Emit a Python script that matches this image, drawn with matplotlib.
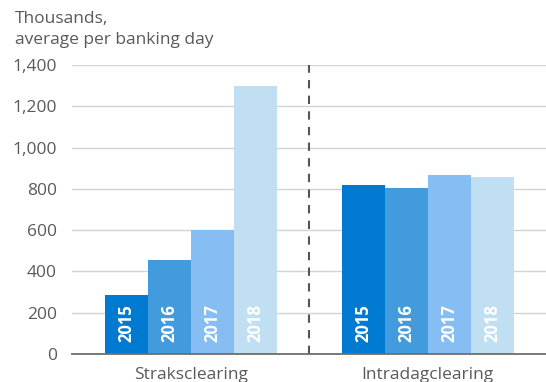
import matplotlib
matplotlib.use("Agg")
import matplotlib.pyplot as plt
from matplotlib.transforms import blended_transform_factory

plt.rcParams['font.family'] = ['Open Sans', 'DejaVu Sans']

groups = ["Straksclearing", "Intradagclearing"]
years = ["2015", "2016", "2017", "2018"]
straks = [285, 455, 603, 1298]
intradag = [821, 806, 869, 858]
values = [straks, intradag]
colors = ["#0079d1", "#419bdc", "#86bdf2", "#c0dff2"]
yticks = [0, 200, 400, 600, 800, 1000, 1200, 1400]
ytick_labels = ["0", "200", "400", "600", "800", "1,000", "1,200", "1,400"]
group_starts = [0, 5.5]

fig = plt.figure(figsize=(5.46, 3.82), dpi=100)
ax = fig.add_axes([72/546, 28/382, 474/546, (354-65)/382])

text_col = "#5a5a5a"
for g, start in enumerate(group_starts):
    for i, (yr, v) in enumerate(zip(years, values[g])):
        x = start + i
        ax.bar(x, v, width=1.0, color=colors[i], zorder=3, linewidth=0)
        ax.text(x, 60, yr, rotation=90, ha="center", va="bottom", color="white",
                fontsize=12, fontweight="bold", zorder=4)
    ax.text(start + 1.5, -0.045, groups[g], transform=blended_transform_factory(ax.transData, ax.transAxes),
            ha="center", va="top", fontsize=12.5, color=text_col)

ax.set_xlim(-1.27, 9.75)
ax.set_ylim(0, 1400)
ax.set_yticks(yticks)
ax.set_yticklabels(ytick_labels)
ax.tick_params(axis="y", length=0, pad=11, labelsize=12.5, labelcolor=text_col)
ax.set_xticks([])
ax.grid(axis="y", color="#d3d3d3", linewidth=1, zorder=0)
for s in ["top", "right", "left"]:
    ax.spines[s].set_visible(False)
ax.spines["bottom"].set_color("#6e6e6e")
ax.spines["bottom"].set_linewidth(1.3)
ax.spines["bottom"].set_zorder(5)

ax.axvline(4.25, color="#555555", linestyle=(0, (4, 3.5)), linewidth=1.5, zorder=5)

fig.text(15/546, 1 - 11/382, "Thousands,\naverage per banking day", ha="left", va="top",
         fontsize=12.5, color=text_col, linespacing=1.4)

fig.savefig("out.png", dpi=100)
